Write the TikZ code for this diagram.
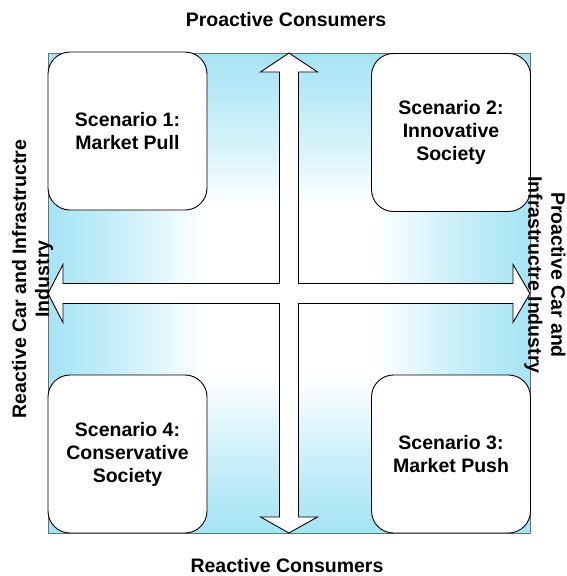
\documentclass[tikz,border=0pt]{standalone}
\usepackage{fontspec}
\setmainfont{Liberation Sans}
\pgfdeclarefunctionalshading{rectgrad}{\pgfpoint{-50bp}{-50bp}}{\pgfpoint{50bp}{50bp}}{}{%
  abs exch abs 2 copy lt {exch} if pop 50 div
  0.18 sub 0.82 div dup 0 lt {pop 0} if
  dup 2 exch sub mul
  dup 0.56 mul 1 exch sub exch
  dup 0.17 mul 1 exch sub exch
  0.07 mul 1 exch sub
}
\tikzset{
  lbl/.style={font=\fontsize{19.5}{23}\selectfont\bfseries, inner sep=0pt, align=center},
  scen/.style={lbl, draw=black, line width=0.9pt, fill=white, rounded corners=22pt,
    minimum width=159pt, minimum height=158pt},
  field/.style={draw={rgb,255:red,110;green,110;blue,110}, line width=1pt, shading=rectgrad,
    minimum width=482pt, minimum height=480pt, inner sep=0pt},
  crossarrow/.style={draw=black, line width=0.9pt, fill=white, line join=miter}
}
\begin{document}
\begin{tikzpicture}[x=1pt,y=-1pt]
\useasboundingbox (0,0) rectangle (566,576);
\node[field] (fld) at (289,293) {};
\draw[crossarrow] (289,53) -- (317.5,72) -- (298.5,72) -- (298.5,283.5) -- (513,283.5)
  -- (513,264.5) -- (530,293.5) -- (513,322.5) -- (513,303.5) -- (298.5,303.5)
  -- (298.5,517) -- (317.5,517) -- (289,533) -- (260.5,517) -- (279.5,517)
  -- (279.5,303.5) -- (63,303.5) -- (63,322.5) -- (48,293.5) -- (63,264.5)
  -- (63,283.5) -- (279.5,283.5) -- (279.5,72) -- (260.5,72) -- cycle;
\node[scen] (s1) at (127.5,131) {Scenario 1:\\Market Pull};
\node[scen] (s2) at (451,132.5) {Scenario 2:\\Innovative\\Society};
\node[scen] (s4) at (127.5,454) {Scenario 4:\\Conservative\\Society};
\node[scen] (s3) at (451,454) {Scenario 3:\\Market Push};
\node[lbl] (top) at (286,19.5) {Proactive Consumers};
\node[lbl] (bot) at (287,565.5) {Reactive Consumers};
\node[lbl, rotate=90] (lft) at (32.5,279) {Reactive Car and Infrastructre\\Industry};
\node[lbl, rotate=-90] (rgt) at (545,275) {Proactive Car and\\Infrastructre Industry};
\end{tikzpicture}
\end{document}
